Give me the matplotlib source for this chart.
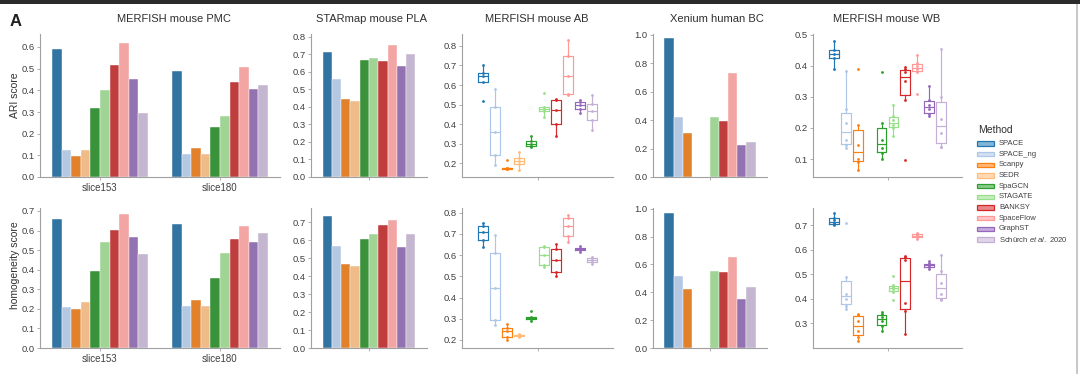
import colorsys
import matplotlib
matplotlib.use('Agg')
import matplotlib.pyplot as plt
import matplotlib.colors as mcolors
from matplotlib.patches import Rectangle
import numpy as np

plt.rcParams['font.family'] = ['Liberation Sans', 'DejaVu Sans']
plt.rcParams['mathtext.fontset'] = 'custom'
plt.rcParams['mathtext.it'] = 'Liberation Sans:italic'
plt.rcParams['mathtext.rm'] = 'Liberation Sans'

methods = ['SPACE', 'SPACE_ng', 'Scanpy', 'SEDR', 'SpaGCN', 'STAGATE', 'BANKSY',
           'SpaceFlow', 'GraphST', r'Schürch $\it{et\ al.}$ 2020']
colors = ['#1f77b4', '#aec7e8', '#ff7f0e', '#ffbb78', '#2ca02c', '#98df8a',
          '#d62728', '#ff9896', '#9467bd', '#c5b0d5']

# bar data ------------------------------------------------------------
pmc_slices = ['slice153', 'slice180']
pmc_ari_153 = [0.592, 0.123, 0.095, 0.123, 0.32, 0.40, 0.515, 0.62, 0.454, 0.295]
pmc_ari_180 = [0.489, 0.108, 0.134, 0.108, 0.23, 0.283, 0.44, 0.508, 0.408, 0.423]
pmc_hom_153 = [0.659, 0.207, 0.199, 0.234, 0.394, 0.543, 0.603, 0.683, 0.569, 0.479]
pmc_hom_180 = [0.633, 0.216, 0.246, 0.212, 0.36, 0.484, 0.557, 0.623, 0.54, 0.589]

pla_ari = [0.716, 0.562, 0.446, 0.432, 0.669, 0.68, 0.661, 0.756, 0.634, 0.70]
pla_hom = [0.733, 0.566, 0.469, 0.458, 0.603, 0.635, 0.686, 0.709, 0.564, 0.631]

nan = np.nan
bc_ari = [0.976, 0.419, 0.313, nan, nan, 0.424, 0.395, 0.729, 0.228, 0.247]
bc_hom = [0.967, 0.517, 0.424, nan, nan, 0.55, 0.543, 0.656, 0.351, 0.436]

# box data (per method samples) ----------------------------------------
ab_ari = [
    [0.70, 0.66, 0.645, 0.615, 0.52],
    [0.58, 0.49, 0.36, 0.24, 0.19],
    [0.215, 0.178, 0.175, 0.172, 0.17],
    [0.26, 0.225, 0.21, 0.195, 0.165],
    [0.34, 0.315, 0.30, 0.29, 0.285],
    [0.56, 0.49, 0.48, 0.465, 0.435],
    [0.53, 0.525, 0.47, 0.40, 0.34],
    [0.83, 0.75, 0.645, 0.555, 0.55],
    [0.525, 0.515, 0.50, 0.48, 0.455],
    [0.55, 0.505, 0.465, 0.42, 0.37],
]
ab_hom = [
    [0.75, 0.735, 0.71, 0.67, 0.64],
    [0.695, 0.61, 0.445, 0.295, 0.27],
    [0.275, 0.255, 0.24, 0.215, 0.20],
    [0.228, 0.224, 0.221, 0.218, 0.215],
    [0.335, 0.31, 0.305, 0.30, 0.29],
    [0.645, 0.64, 0.60, 0.555, 0.545],
    [0.65, 0.63, 0.575, 0.52, 0.50],
    [0.79, 0.775, 0.735, 0.69, 0.66],
    [0.645, 0.632, 0.627, 0.622, 0.615],
    [0.59, 0.585, 0.575, 0.568, 0.56],
]
wb_ari = [
    [0.39, 0.425, 0.44, 0.45, 0.48],
    [0.135, 0.145, 0.16, 0.215, 0.26, 0.385],
    [0.065, 0.09, 0.10, 0.145, 0.21, 0.39],
    [],
    [0.10, 0.12, 0.135, 0.16, 0.215, 0.38],
    [0.175, 0.20, 0.21, 0.225, 0.24, 0.275],
    [0.097, 0.29, 0.35, 0.38, 0.39, 0.398],
    [0.31, 0.38, 0.39, 0.40, 0.41, 0.435],
    [0.24, 0.245, 0.26, 0.275, 0.29, 0.335],
    [0.138, 0.14, 0.185, 0.23, 0.30, 0.455],
]
wb_hom = [
    [0.70, 0.705, 0.71, 0.72, 0.73, 0.75],
    [0.36, 0.37, 0.40, 0.42, 0.49, 0.71],
    [0.23, 0.245, 0.27, 0.31, 0.335, 0.34],
    [],
    [0.27, 0.29, 0.31, 0.325, 0.34, 0.345],
    [0.395, 0.43, 0.44, 0.45, 0.455, 0.495],
    [0.255, 0.35, 0.385, 0.56, 0.57, 0.575],
    [0.645, 0.65, 0.655, 0.66, 0.665, 0.67],
    [0.52, 0.528, 0.535, 0.54, 0.545, 0.555],
    [0.395, 0.398, 0.42, 0.465, 0.515, 0.58],
]


def desat(c, prop=0.75):
    r, g, b = mcolors.to_rgb(c)
    h, l, s = colorsys.rgb_to_hls(r, g, b)
    return colorsys.hls_to_rgb(h, l, s * prop)


bar_cols = [desat(c) for c in colors]
W = 1080.0
H = 374.0


def style(ax):
    for s in ['top', 'right']:
        ax.spines[s].set_visible(False)
    for s in ['left', 'bottom']:
        ax.spines[s].set_color('#a0a0a0')
        ax.spines[s].set_linewidth(0.8)
    ax.tick_params(length=2.5, width=0.6, color='#a0a0a0', labelsize=6.8,
                   labelcolor='#404040', pad=1.5)


def bars(ax, groups):
    for g, vals in enumerate(groups):
        for i, v in enumerate(vals):
            if np.isnan(v):
                continue
            ax.bar(g - 0.36 + 0.08 * i, v, width=0.08, color=bar_cols[i],
                   edgecolor='white', linewidth=0.3)


def boxes(ax, data):
    for i, vals in enumerate(data):
        if len(vals) == 0:
            continue
        c = colors[i]
        pos = -0.36 + 0.08 * i
        lp = dict(color=c, linewidth=0.85)
        ax.boxplot(vals, positions=[pos], widths=0.066, showfliers=False,
                   showcaps=False, manage_ticks=False, boxprops=lp,
                   whiskerprops=lp, medianprops=lp)
        ax.scatter([pos] * len(vals), vals, s=4, color=c, lw=0, zorder=3)


def axes_at(x0, x1, ytop, ybot):
    return fig.add_axes([x0 / W, 1 - ybot / H, (x1 - x0) / W, (ybot - ytop) / H])


fig = plt.figure(figsize=(10.8, 3.74), dpi=100)

cols = [(40, 280), (311, 427), (462, 613), (653, 767), (813, 962)]
rows = [(34, 177), (208, 348)]

ylims = [
    [(0, 0.66), (0, 0.817), (0.13, 0.861), (0, 1.007), (0.042, 0.503)],
    [(0, 0.715), (0, 0.778), (0.162, 0.822), (0, 1.005), (0.2, 0.77)],
]
yticks = [
    [np.arange(0, 0.61, 0.1), np.arange(0, 0.81, 0.1), np.arange(0.2, 0.81, 0.1),
     np.arange(0, 1.01, 0.2), np.arange(0.1, 0.51, 0.1)],
    [np.arange(0, 0.71, 0.1), np.arange(0, 0.71, 0.1), np.arange(0.2, 0.81, 0.1),
     np.arange(0, 1.01, 0.2), np.arange(0.3, 0.71, 0.1)],
]
bar_data = [
    [[pmc_ari_153, pmc_ari_180], [pla_ari], None, [bc_ari], None],
    [[pmc_hom_153, pmc_hom_180], [pla_hom], None, [bc_hom], None],
]
box_data = [[None, None, ab_ari, None, wb_ari], [None, None, ab_hom, None, wb_hom]]

for r, (yt, yb) in enumerate(rows):
    for k, (x0, x1) in enumerate(cols):
        ax = axes_at(x0, x1, yt, yb)
        style(ax)
        if bar_data[r][k] is not None:
            bars(ax, bar_data[r][k])
        else:
            boxes(ax, box_data[r][k])
        ax.set_ylim(*ylims[r][k])
        ax.set_yticks(yticks[r][k])
        ax.set_yticklabels(['%.1f' % t for t in yticks[r][k]])
        if k == 0:
            ax.set_xlim(-0.5, 1.5)
            ax.set_xticks([0, 1])
            ax.set_xticklabels(pmc_slices, fontsize=7)
        else:
            ax.set_xlim(-0.5, 0.5)
            ax.set_xticks([0])
            ax.set_xticklabels([''])

titles = ['MERFISH mouse PMC', 'STARmap mouse PLA', 'MERFISH mouse AB',
          'Xenium human BC', 'MERFISH mouse WB']
title_x = [174, 372, 537, 717, 887]
for t, x in zip(titles, title_x):
    fig.text(x / W, 1 - 19 / H, t, ha='center', va='center', fontsize=8,
             color='#303030')

fig.text(16 / W, 1 - 21 / H, 'A', ha='center', va='center', fontsize=12,
         fontweight='bold', color='#202020')
fig.text(15.5 / W, 1 - 95 / H, 'ARI score', rotation=90, ha='center',
         va='center', fontsize=7.5, color='#303030')
fig.text(15.5 / W, 1 - 265 / H, 'homogeneity score', rotation=90, ha='center',
         va='center', fontsize=7.5, color='#303030')

# legend
fig.text(978 / W, 1 - 130 / H, 'Method', ha='left', va='center', fontsize=7.5,
         color='#303030')
for i, (m, c) in enumerate(zip(methods, colors)):
    yc = 143.3 + 10.7 * i
    face = [0.55 * a + 0.45 for a in mcolors.to_rgb(c)]
    fig.add_artist(Rectangle((977 / W, 1 - (yc + 2.2) / H), 17 / W, 4.4 / H,
                             transform=fig.transFigure, facecolor=face,
                             edgecolor=c, linewidth=0.9))
    fig.text(999 / W, 1 - yc / H, m, ha='left', va='center', fontsize=5.5,
             color='#404040')

# screenshot frame
fig.add_artist(Rectangle((0, 1 - 4 / H), 1, 4 / H, transform=fig.transFigure,
                         facecolor='#2b2b2b', edgecolor='none'))
fig.add_artist(Rectangle((1076 / W, 0), 1.5 / W, 1 - 4 / H,
                         transform=fig.transFigure, facecolor='#c8c8c8',
                         edgecolor='none'))

fig.savefig('out.png', dpi=100)
